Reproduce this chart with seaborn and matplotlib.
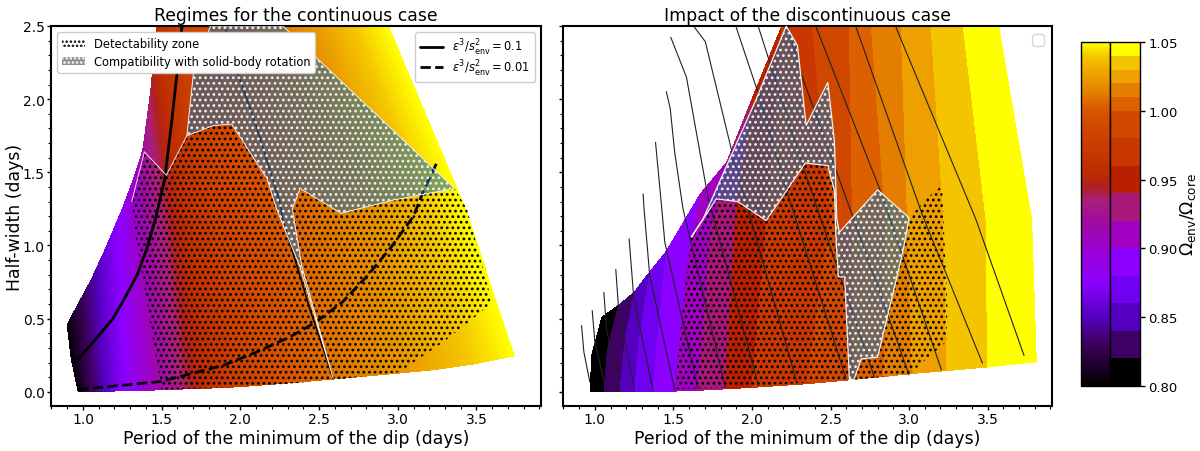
import numpy as np
import matplotlib
matplotlib.use("Agg")
import matplotlib.pyplot as plt
from matplotlib.colors import LinearSegmentedColormap, ListedColormap, BoundaryNorm, Normalize
from matplotlib.lines import Line2D
from matplotlib.patches import Patch
import seaborn as sns

# iso-omega lines of the continuous case (low, mid, high)
omega_left = [0.80, 0.82, 0.84, 0.86, 0.88, 0.90, 0.92, 0.94, 0.96, 0.98, 1.00, 1.01, 1.02, 1.03, 1.04, 1.05]
left_p_low = [0.97, 1.02, 1.10, 1.19, 1.30, 1.40, 1.52, 1.66, 1.80, 2.00, 2.30, 2.62, 2.98, 3.22, 3.48, 3.74]
left_h_low = [0.00, 0.00, 0.00, 0.005, 0.01, 0.01, 0.015, 0.02, 0.025, 0.035, 0.06, 0.09, 0.125, 0.15, 0.19, 0.245]
left_p_mid = [0.925, 0.985, 1.07, 1.16, 1.27, 1.355, 1.45, 1.55, 1.65, 1.83, 2.20, 2.55, 2.85, 3.02, 3.20, 3.43]
left_h_mid = [0.23, 0.29, 0.38, 0.49, 0.63, 0.73, 0.83, 1.03, 1.25, 1.25, 1.25, 1.25, 1.25, 1.25, 1.25, 1.25]
left_p_top = [0.90, 0.96, 1.05, 1.14, 1.25, 1.32, 1.38, 1.43, 1.47, 1.62, 2.05, 2.27, 2.45, 2.58, 2.74, 2.94]
left_h_top = [0.46, 0.58, 0.76, 0.97, 1.25, 1.45, 1.65, 2.05, 2.5, 2.5, 2.5, 2.5, 2.5, 2.5, 2.5, 2.5]

# iso-omega lines of the discontinuous case (low, mid, high)
omega_right = [0.80, 0.82, 0.84, 0.86, 0.88, 0.90, 0.92, 0.94, 0.96, 0.98, 1.00, 1.01, 1.02, 1.03, 1.04, 1.05]
right_p_low = [0.97, 1.06, 1.16, 1.25, 1.37, 1.51, 1.655, 1.83, 2.00, 2.35, 2.65, 2.84, 3.02, 3.24, 3.50, 3.81]
right_h_low = [0.00, 0.00, 0.00, 0.00, 0.00, 0.005, 0.01, 0.02, 0.03, 0.055, 0.085, 0.105, 0.125, 0.145, 0.17, 0.205]
right_p_mid = [0.98, 1.08, 1.19, 1.29, 1.41, 1.59, 1.74, 1.90, 2.10, 2.50, 2.64, 2.85, 2.99, 3.22, 3.49, 3.78]
right_h_mid = [0.25, 0.29, 0.34, 0.41, 0.48, 0.90, 1.10, 1.25, 1.25, 1.18, 1.18, 1.18, 1.18, 1.18, 1.18, 1.18]
right_p_top = [1.045, 1.15, 1.25, 1.35, 1.455, 1.67, 1.84, 2.00, 2.19, 2.385, 2.62, 2.76, 2.95, 3.14, 3.345, 3.57]
right_h_top = [0.51, 0.59, 0.68, 0.82, 0.96, 1.35, 1.57, 2.00, 2.5, 2.5, 2.5, 2.5, 2.5, 2.5, 2.5, 2.5]

band_levels = [0.80, 0.82, 0.84, 0.86, 0.88, 0.90, 0.92, 0.94, 0.96, 0.98, 1.00, 1.01, 1.02, 1.03, 1.04, 1.05]
band_colors = ["#000000", "#3f0064", "#5500c0", "#7000f0", "#8c00ff", "#a000c0", "#a81878", "#b82000",
               "#c83800", "#d04800", "#dc6000", "#e47e00", "#eea000", "#f5c400", "#ffff00"]

cmap_values = [0.80, 0.83, 0.85, 0.875, 0.90, 0.92, 0.935, 0.945, 0.955, 0.98, 1.00, 1.015, 1.03, 1.04, 1.05]
cmap_colors = ["#000000", "#3c005a", "#5500c0", "#8c00ff", "#9a00d0", "#a00ca0", "#a8207a", "#b02020",
               "#bc2c00", "#cc4000", "#d85400", "#e48400", "#eeaa00", "#f5c800", "#ffff00"]

# scaling curves, left panel
solid_p = [0.95, 1.065, 1.19, 1.25, 1.30, 1.345, 1.405, 1.46, 1.52, 1.563, 1.60, 1.627, 1.63]
solid_h = [0.20, 0.34, 0.50, 0.61, 0.71, 0.80, 0.977, 1.18, 1.455, 1.84, 2.20, 2.48, 2.50]
dashed_p = [0.97, 1.49, 1.66, 1.89, 2.10, 2.315, 2.485, 2.65, 2.80, 2.95, 3.10, 3.16, 3.25]
dashed_h = [0.015, 0.07, 0.116, 0.18, 0.27, 0.375, 0.48, 0.615, 0.785, 0.977, 1.20, 1.365, 1.57]
ridge_p = [1.90, 1.976, 2.10, 2.25, 2.27, 2.44, 2.59]
ridge_h = [2.50, 2.20, 1.82, 1.30, 1.18, 0.57, 0.09]

# regions, left panel
detect_p_left = [1.31, 1.39, 1.53, 1.66, 1.83, 1.945, 2.17, 2.23, 2.38, 2.59, 2.39, 2.33, 2.38, 2.64, 2.97, 3.36, 3.44,
                 3.60, 3.50, 3.29, 3.01, 2.59, 2.06, 1.50, 1.42, 1.38, 1.34]
detect_h_left = [1.30, 1.64, 1.48, 1.75, 1.82, 1.83, 1.455, 1.25, 0.85, 0.09, 0.86, 1.25, 1.39, 1.22, 1.31, 1.39, 1.25,
                 0.61, 0.52, 0.34, 0.135, 0.08, 0.035, 0.015, 0.52, 0.79, 1.02]
compat_p_left = [1.81, 1.70, 1.66, 1.83, 1.945, 2.17, 2.23, 2.38, 2.59, 2.39, 2.33, 2.38, 2.64, 2.97, 3.36, 2.27]
compat_h_left = [2.50, 2.16, 1.75, 1.82, 1.83, 1.455, 1.25, 0.85, 0.09, 0.86, 1.25, 1.39, 1.22, 1.31, 1.39, 2.50]
edge_p_left = [1.31, 1.39, 1.53, 1.66]
edge_h_left = [1.30, 1.64, 1.48, 1.75]

# regions, right panel
detect_p_a = [1.52, 1.52, 1.57, 1.614, 1.773, 1.91, 2.09, 2.34, 2.483, 2.525, 2.535, 2.55, 2.59, 2.62, 2.30, 1.90]
detect_h_a = [0.02, 0.137, 0.68, 1.057, 1.318, 1.30, 1.17, 1.564, 1.546, 1.375, 1.045, 0.785, 0.785, 0.084, 0.06, 0.03]
detect_p_b = [2.65, 2.695, 2.80, 2.96, 3.00, 3.11, 3.21, 3.245, 3.235, 3.11, 3.00]
detect_h_b = [0.084, 0.225, 0.237, 0.954, 1.19, 1.32, 1.41, 0.567, 0.34, 0.225, 0.116]
compat_p_right = [1.614, 1.688, 2.027, 2.218, 2.29, 2.345, 2.483, 2.525, 2.54, 2.556, 2.80, 3.00, 2.96, 2.80, 2.695,
                  2.65, 2.62, 2.59, 2.55, 2.535, 2.525, 2.483, 2.34, 2.09, 1.91, 1.773]
compat_h_right = [1.057, 1.18, 2.00, 2.50, 2.365, 1.82, 2.115, 1.71, 1.18, 1.09, 1.38, 1.19, 0.954, 0.237, 0.225,
                  0.084, 0.084, 0.785, 0.785, 1.045, 1.375, 1.546, 1.564, 1.17, 1.30, 1.318]

# thin contours of the right panel
contours_p = [
    [0.915, 0.93, 0.968],
    [0.983, 1.00, 1.064],
    [1.057, 1.074, 1.154],
    [1.133, 1.154, 1.254],
    [1.218, 1.248, 1.371],
    [1.307, 1.313, 1.349, 1.508],
    [1.386, 1.424, 1.445, 1.657],
    [1.455, 1.48, 1.508, 1.561, 1.83],
    [1.483, 1.583, 1.72, 2.042],
    [1.635, 1.703, 1.868, 1.974, 2.285],
    [1.90, 2.038, 2.218, 2.599],
    [2.042, 2.345, 2.779],
    [2.228, 2.302, 2.641, 3.00],
    [2.409, 2.817, 3.206],
    [2.663, 3.086, 3.467],
    [2.917, 3.425, 3.732],
]
contours_h = [
    [0.453, 0.271, 0.066],
    [0.555, 0.34, 0.043],
    [0.68, 0.431, 0.002],
    [0.836, 0.521, 0.009],
    [1.045, 0.635, 0.009],
    [1.352, 1.25, 0.795, 0.014],
    [1.705, 1.273, 1.022, 0.02],
    [2.051, 1.933, 1.637, 1.25, 0.032],
    [2.423, 2.15, 1.329, 0.043],
    [2.49, 2.393, 1.66, 1.25, 0.066],
    [2.49, 2.047, 1.387, 0.089],
    [2.49, 1.478, 0.10],
    [2.49, 2.206, 1.20, 0.116],
    [2.49, 1.375, 0.15],
    [2.49, 1.205, 0.196],
    [2.49, 1.18, 0.248],
]

cbar_ticks = [0.80, 0.85, 0.90, 0.95, 1.00, 1.05]

sns.set_theme(style="ticks", rc={"axes.linewidth": 1.5, "hatch.linewidth": 1.2, "font.family": "DejaVu Sans",
                                 "xtick.color": "black", "ytick.color": "black", "axes.edgecolor": "black",
                                 "text.color": "black", "axes.labelcolor": "black"})

fig = plt.figure(figsize=(12, 4.52), dpi=100)
ax1 = fig.add_axes([51 / 1200, 1 - 407 / 452, 490 / 1200, 380 / 452])
ax2 = fig.add_axes([563 / 1200, 1 - 407 / 452, 489 / 1200, 380 / 452])
cax1 = fig.add_axes([1081 / 1200, 1 - 387 / 452, 29 / 1200, 344 / 452])
cax2 = fig.add_axes([1110 / 1200, 1 - 387 / 452, 30 / 1200, 344 / 452])

grad_cmap = LinearSegmentedColormap.from_list(
    "omega", [((v - 0.80) / 0.25, c) for v, c in zip(cmap_values, cmap_colors)], N=512)
grad_norm = Normalize(0.80, 1.05)
band_cmap = ListedColormap(band_colors)
band_norm = BoundaryNorm(band_levels, band_cmap.N)

# continuous field
X1 = np.array([left_p_low, left_p_mid, left_p_top])
Y1 = np.array([left_h_low, left_h_mid, left_h_top])
Z1 = np.array([omega_left, omega_left, omega_left])
ax1.contourf(X1, Y1, Z1, levels=np.linspace(0.80, 1.05, 401), cmap=grad_cmap, norm=grad_norm, zorder=1)

# banded field
X2 = np.array([right_p_low, right_p_mid, right_p_top])
Y2 = np.array([right_h_low, right_h_mid, right_h_top])
Z2 = np.array([omega_right, omega_right, omega_right])
ax2.contourf(X2, Y2, Z2, levels=band_levels, colors=band_colors, zorder=1)

compat_fill = (35 / 255, 105 / 255, 158 / 255, 0.57)

# left panel regions
ax1.fill(detect_p_left, detect_h_left, facecolor="none", edgecolor="black", hatch="...", linewidth=0, zorder=2)
sns.lineplot(x=solid_p, y=solid_h, ax=ax1, color="black", lw=2, sort=False, estimator=None, zorder=3)
sns.lineplot(x=dashed_p, y=dashed_h, ax=ax1, color="black", lw=2, linestyle="--", sort=False, estimator=None, zorder=3)
sns.lineplot(x=ridge_p, y=ridge_h, ax=ax1, color="black", lw=1.1, sort=False, estimator=None, zorder=3)
ax1.fill(compat_p_left, compat_h_left, facecolor=compat_fill, edgecolor="#f0f0f0", hatch="...", linewidth=0.7, zorder=4)
sns.lineplot(x=edge_p_left, y=edge_h_left, ax=ax1, color="#f0e0f0", lw=0.7, sort=False, estimator=None, zorder=4)

# right panel regions
ax2.fill(detect_p_a, detect_h_a, facecolor="none", edgecolor="black", hatch="...", linewidth=0, zorder=2)
ax2.fill(detect_p_b, detect_h_b, facecolor="none", edgecolor="black", hatch="...", linewidth=0, zorder=2)
for xs, ys in zip(contours_p, contours_h):
    sns.lineplot(x=xs, y=ys, ax=ax2, color="#222222", lw=0.8, sort=False, estimator=None, zorder=3)
ax2.fill(compat_p_right, compat_h_right, facecolor=compat_fill, edgecolor="#f0f0f0", hatch="...", linewidth=0.9, zorder=4)

for ax in (ax1, ax2):
    ax.set_xlim(0.797, 3.91)
    ax.set_ylim(-0.097, 2.5)
    ax.set_xticks([1.0, 1.5, 2.0, 2.5, 3.0, 3.5])
    ax.set_xticks(np.arange(0.8, 3.91, 0.1), minor=True)
    ax.set_yticks([0.0, 0.5, 1.0, 1.5, 2.0, 2.5])
    ax.set_yticks(np.arange(0.0, 2.51, 0.1), minor=True)
    ax.tick_params(labelsize=10, width=1.0, length=3, pad=1.5)
    ax.tick_params(which="minor", width=0.8, length=2)
    ax.set_xlabel("Period of the minimum of the dip (days)", fontsize=12.4, labelpad=2)

ax1.set_ylabel("Half-width (days)", fontsize=12.4, labelpad=-1)
ax2.tick_params(labelleft=False)
ax1.set_title("Regimes for the continuous case", fontsize=12.4, pad=4)
ax2.set_title("Impact of the discontinuous case", fontsize=12.4, pad=4)

# legends
region_handles = [
    Patch(facecolor="white", edgecolor="black", hatch="....", linewidth=0, label="Detectability zone"),
    Patch(facecolor="#909090", edgecolor="white", hatch="....", linewidth=0, label="Compatibility with solid-body rotation"),
]
leg1 = ax1.legend(handles=region_handles, loc="upper left", fontsize=8.3, borderaxespad=0.55, labelspacing=0.45,
                  handlelength=2.0, framealpha=1)
ax1.add_artist(leg1)
curve_handles = [
    Line2D([], [], color="black", lw=2, label=r"$\epsilon^3/s_{\rm env}^2 = 0.1$"),
    Line2D([], [], color="black", lw=2, ls="--", label=r"$\epsilon^3/s_{\rm env}^2 = 0.01$"),
]
ax1.legend(handles=curve_handles, loc="upper right", fontsize=8.3, borderaxespad=0.55, labelspacing=0.05, framealpha=1)
ax2.legend(handles=[], loc="upper right", borderaxespad=0.5)

# two colorbars side by side
cb1 = fig.colorbar(plt.cm.ScalarMappable(norm=grad_norm, cmap=grad_cmap), cax=cax1)
cb1.set_ticks([])
cb2 = fig.colorbar(plt.cm.ScalarMappable(norm=band_norm, cmap=band_cmap), cax=cax2, spacing="proportional",
                   ticks=cbar_ticks, format="%.2f")
cb2.minorticks_off()
cb2.ax.tick_params(labelsize=9.5, width=1.0, length=3.5, pad=2.5)
cb2.set_label(r"$\Omega_{\rm env}/\Omega_{\rm core}$", fontsize=12.4, labelpad=0)
for cb in (cb1, cb2):
    cb.outline.set_linewidth(1.0)

fig.savefig("out.png", dpi=100)
